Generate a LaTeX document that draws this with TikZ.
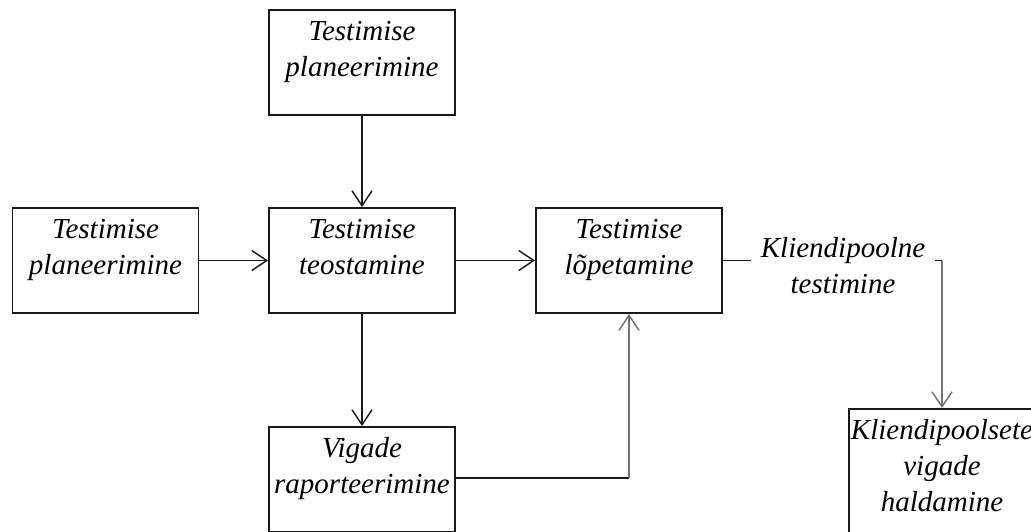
\documentclass[tikz,border=0pt]{standalone}
\usepackage{fontspec}
\setmainfont{Liberation Serif}
\usetikzlibrary{arrows.meta}
\begin{document}
\begin{tikzpicture}[x=1pt,y=-1pt,
  txt/.style={font=\fontsize{29}{36}\selectfont\itshape},
  box/.style={txt, draw=black!90, line width=1.8pt, inner sep=0pt, minimum width=186pt,
    text height=66pt, text depth=39pt, align=center, anchor=base},
  box3/.style={box, text height=102pt, text depth=28pt},
  lbl/.style={txt, inner xsep=10pt, inner ysep=0pt, align=center, anchor=base},
  tip/.style={-{Straight Barb[length=15pt,width=20pt,line width=1.5pt]}},
  line/.style={draw=black!90, line width=1.6pt},
  gline/.style={draw=black!55, line width=2.2pt},
]
\useasboundingbox (0,0) rectangle (1031,531);

\node[box] (tp) at (362,76) {Testimise\\planeerimine};
\node[box] (lp) at (105.5,274) {Testimise\\planeerimine};
\node[box] (te) at (362,274) {Testimise\\teostamine};
\node[box] (lo) at (629,274) {Testimise\\lõpetamine};
\node[box] (vr) at (362,493) {Vigade\\raporteerimine};
\node[box3] (kv) at (942,511) {Kliendipoolsete\\vigade\\haldamine};
\node[lbl] (kt) at (843,293) {Kliendipoolne\\testimine};

\draw[line,tip] (tp) -- (te);
\draw[line,tip] (lp) -- (te);
\draw[line,tip] (te) -- (lo);
\draw[line,tip] (te) -- (vr);

\coordinate (v1) at ([yshift=-52pt]vr.north east);
\coordinate (c1) at (lo.south |- v1);
\draw[line] (v1) -- (c1);
\draw[gline,tip] (c1) -- (lo.south);

\coordinate (c2) at (kv.north |- lo.east);
\draw[line] (lo.east) -- (lo.east -| kt.west);
\draw[line] (kt.east |- lo.east) -- (c2);
\draw[gline,tip] (c2) -- (kv.north);
\end{tikzpicture}
\end{document}
